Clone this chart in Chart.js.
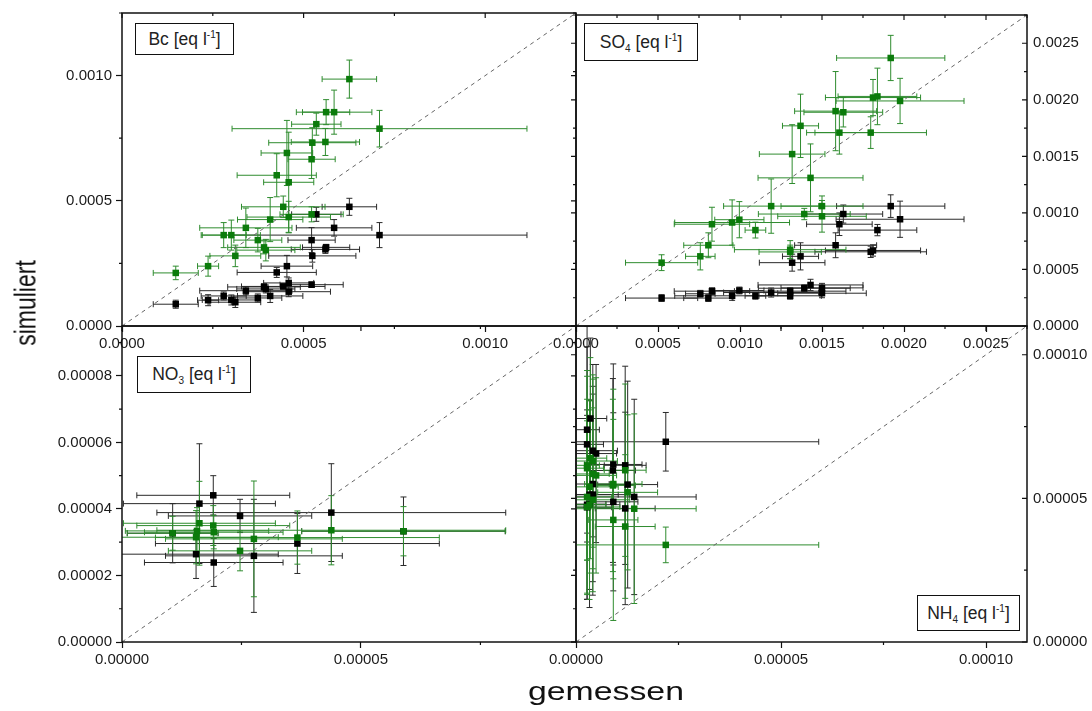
<!DOCTYPE html>
<html>
<head>
<meta charset="utf-8">
<script src="https://cdn.jsdelivr.net/npm/chart.js@4/dist/chart.umd.min.js"></script>
<style>
  body { margin: 0; background: #fff; }
  #wrap { position: relative; width: 1092px; height: 711px; overflow: hidden; font-family: 'Liberation Sans', Arial, sans-serif; }
  #wrap canvas { position: absolute; left: 0; top: 0; }
  .tag { position: absolute; box-sizing: border-box; border: 1.5px solid #111; background: #fff; display: flex; align-items: center; justify-content: center; font-size: 17.5px; color: #222; white-space: nowrap; }
  .tag sup { font-size: 10px; line-height: 0; vertical-align: 7px; }
  .tag sub { font-size: 10px; line-height: 0; vertical-align: -4px; }
  .title { position: absolute; color: #111; white-space: nowrap; text-align: center; }
</style>
</head>
<body>
<div id="wrap">
  <canvas id="bcplot" width="1092" height="711"></canvas>
  <canvas id="so4plot" width="1092" height="711"></canvas>
  <canvas id="no3plot" width="1092" height="711"></canvas>
  <canvas id="nh4plot" width="1092" height="711"></canvas>

  <div class="tag" style="left:135px;top:23px;width:99px;height:32px"><span>Bc [eq l<sup>-1</sup>]</span></div>
  <div class="tag" style="left:584px;top:23px;width:114px;height:38px"><span>SO<sub>4</sub> [eq l<sup>-1</sup>]</span></div>
  <div class="tag" style="left:137px;top:356px;width:114px;height:37px"><span>NO<sub>3</sub> [eq l<sup>-1</sup>]</span></div>
  <div class="tag" style="left:917px;top:595px;width:103px;height:36px"><span>NH<sub>4</sub> [eq l<sup>-1</sup>]</span></div>

  <div class="title" style="left:-35px;top:288px;width:120px;height:30px;line-height:30px;font-size:23px;transform:scaleX(1.3) rotate(-90deg)">simuliert</div>
  <div class="title" style="left:526px;top:678px;width:160px;height:26px;line-height:26px;font-size:26px;transform:scaleX(1.3)">gemessen</div>
</div>
<script>
// --- Bc: measured (shared x) and two simulations ---
const bcMeas      = [0.000626, 0.000562, 0.000584, 0.000535, 0.000709, 0.000524, 0.00056, 0.000454, 0.000522, 0.000426, 0.000459, 0.000444, 0.000522, 0.000459, 0.000408, 0.000341, 0.00028, 0.000301, 0.000374, 0.000391, 0.000396, 0.000312, 0.000237, 0.000148];
const bcMeasErr   = [0.000075, 0.000065, 0.000104, 0.000068, 0.000406, 0.00012, 0.000094, 0.000071, 0.000065, 0.000109, 0.000069, 0.000115, 0.000087, 0.000115, 0.00009, 0.000127, 0.000062, 0.00008, 0.000066, 0.0001, 0.00008, 0.00007, 0.000029, 0.000062];
const bcSimGreen  = [0.000986, 0.000854, 0.000854, 0.000806, 0.000788, 0.000732, 0.000735, 0.000691, 0.000666, 0.000602, 0.000574, 0.000476, 0.000446, 0.000435, 0.000425, 0.000392, 0.000363, 0.000363, 0.000343, 0.000314, 0.000303, 0.00028, 0.000239, 0.000212];
const bcGreenErr  = [0.000076, 0.00005, 0.000088, 0.000044, 0.000073, 0.00006, 0.000054, 0.00013, 0.000077, 0.000086, 0.0002, 0.000043, 0.00003, 0.000063, 0.000088, 0.000079, 0.00005, 0.00006, 0.000047, 0.000026, 0.000043, 0.000043, 0.00004, 0.000027];
const bcSimBlack  = [0.000476, 0.000314, 0.000392, 0.000446, 0.000363, 0.00028, 0.000306, 0.000239, 0.000343, 0.000214, 0.000172, 0.000158, 0.000165, 0.000137, 0.00012, 0.000141, 0.00012, 0.000104, 0.000112, 0.000156, 0.000148, 0.000095, 0.000103, 0.000087];
const bcBlackErr  = [0.000034, 0.000012, 0.000033, 0.000028, 0.00005, 0.000025, 0.000016, 0.000043, 0.00005, 0.00002, 0.00002, 0.00001, 0.000011, 0.00002, 0.000026, 0.000016, 0.000016, 0.00002, 0.000016, 0.000013, 0.000016, 0.000021, 0.000022, 0.000016];

// --- SO4 ---
const so4Meas     = [0.001919, 0.001811, 0.001838, 0.001976, 0.001583, 0.00163, 0.001369, 0.001606, 0.001797, 0.001318, 0.00143, 0.00119, 0.0015, 0.001392, 0.0015, 0.000996, 0.000952, 0.000829, 0.001094, 0.000807, 0.001306, 0.000758, 0.000522, 0.001306];
const so4MeasErr  = [0.00033, 0.00029, 0.00024, 0.00039, 0.00025, 0.00024, 0.00011, 0.0002, 0.00034, 0.0002, 0.00032, 0.00029, 0.00025, 0.00028, 0.00027, 0.00015, 0.00035, 0.00023, 0.000063, 0.00015, 0.00034, 0.00009, 0.00022, 0.00019];
const so4SimGreen = [0.00237, 0.00202, 0.00203, 0.00199, 0.0019, 0.00189, 0.00177, 0.00171, 0.00171, 0.00152, 0.00131, 0.00106, 0.00106, 0.00099, 0.00097, 0.00094, 0.000915, 0.0009, 0.000848, 0.000714, 0.000675, 0.000616, 0.00056, 0.000655];
const so4GreenErr = [0.0002, 0.00016, 0.00025, 0.0002, 0.00035, 0.00013, 0.00028, 0.00019, 0.00014, 0.00026, 0.0003, 0.00024, 0.00009, 0.00005, 0.00014, 0.00016, 0.0002, 0.00015, 0.00007, 0.00011, 0.00008, 0.00012, 0.00007, 0.00006];
const so4SimBlack = [0.00106, 0.000668, 0.000848, 0.000944, 0.000714, 0.00099, 0.000616, 0.0009, 0.000656, 0.00056, 0.000363, 0.000296, 0.000337, 0.000334, 0.00029, 0.000314, 0.000267, 0.000308, 0.000267, 0.000247, 0.000308, 0.000285, 0.000247, 0.000267];
const so4BlackErr = [0.0001, 0.00005, 0.00005, 0.00016, 0.00011, 0.00008, 0.00012, 0.0001, 0.00005, 0.000075, 0.00005, 0.00004, 0.00004, 0.00003, 0.00004, 0.00003, 0.00004, 0.00003, 0.00003, 0.00003, 0.00003, 0.00003, 0.00003, 0.00003];

// --- NO3 ---
const no3Meas     = [0.0000106, 0.0000162, 0.0000157, 0.0000155, 0.0000191, 0.0000192, 0.0000247, 0.0000276, 0.0000367, 0.0000438, 0.0000589];
const no3MeasErr  = [0.0000095, 0.0000159, 0.000015, 0.0000172, 0.000016, 0.0000145, 0.000015, 0.0000185, 0.0000297, 0.0000365, 0.0000213];
const no3SimGreen = [0.0000327, 0.0000357, 0.0000334, 0.0000315, 0.000035, 0.000033, 0.0000274, 0.000031, 0.0000314, 0.0000336, 0.0000333];
const no3GreenErr = [0.0000051, 0.0000126, 0.000007, 0.000008, 0.000006, 0.000005, 0.000006, 0.0000174, 0.000008, 0.0000104, 0.0000074];
const no3SimBlack = [0.0000327, 0.0000416, null, 0.0000264, 0.0000441, 0.0000239, 0.0000379, 0.0000259, 0.0000296, 0.0000389, 0.0000333];
const no3BlackErr = [0.0000089, 0.000018, null, 0.0000073, 0.0000059, 0.0000072, 0.000005, 0.000017, 0.000009, 0.0000147, 0.0000103];

// --- NH4 ---
const nh4Meas     = [0.0000219, 0.0000142, 0.000012, 0.0000126, 0.000012, 0.0000091, 0.000009, 0.0000091, 0.0000035, 0.0000027, 0.0000027, 0.0000041, 0.0000049, 0.0000041, 0.0000033, 0.0000041, 0.0000027, 0.0000033, 0.0000027];
const nh4MeasErr  = [0.0000373, 0.0000151, 0.0000073, 0.0000073, 0.0000051, 0.000007, 0.0000055, 0.000006, 0.000004, 0.000003, 0.000004, 0.000006, 0.000005, 0.000004, 0.000007, 0.000009, 0.000008, 0.000004, 0.000006];
const nh4SimGreen = [0.0000338, 0.0000464, 0.0000402, 0.0000521, 0.0000598, 0.000055, 0.0000545, 0.0000425, 0.000064, 0.0000615, 0.0000605, 0.000063, 0.000058, 0.0000585, 0.000054, 0.0000495, 0.000047, 0.0000478, 0.0000505];
const nh4GreenErr = [0.0000062, 0.000033, 0.000025, 0.000027, 0.00003, 0.000033, 0.00003, 0.000035, 0.000035, 0.000033, 0.000032, 0.00003, 0.000034, 0.000033, 0.00003, 0.000032, 0.00003, 0.000033, 0.000034];
const nh4SimBlack = [0.0000697, 0.0000505, 0.0000465, 0.0000548, 0.0000615, 0.0000618, 0.0000597, 0.0000488, 0.0000778, 0.0000739, 0.0000688, 0.0000666, 0.0000656, 0.000055, 0.0000513, 0.0000513, 0.0000478, 0.000048, 0.0000469];
const nh4BlackErr = [0.0000102, 0.000034, 0.0000335, 0.000036, 0.0000345, 0.000035, 0.000032, 0.000031, 0.000028, 0.000036, 0.000034, 0.00003, 0.000031, 0.000034, 0.000033, 0.000035, 0.000033, 0.000036, 0.000032];

const FONT = "'Liberation Sans', Arial, sans-serif";
const GREEN = '#0b7b0b', GREEN_BAR = '#2f8c2f';
const BLACK = '#000000', BLACK_BAR = '#2a2a2a';
const CANVAS_W = 1092, CANVAS_H = 711;
const Y_AXIS_W = 70, X_AXIS_H = 26;
const CAP = 3;

function toPoints(meas, measErr, sim, simErr) {
    return meas.map((m, i) => ({ x: m, y: sim[i], xErr: measErr[i], yErr: simErr[i] }));
}

// error bars, drawn under the squares
const errorBars = {
    id: 'errorBars',
    beforeDatasetsDraw(chart) {
        const { ctx, chartArea: a, scales: { x, y } } = chart;
        ctx.save();
        ctx.beginPath();
        ctx.rect(a.left, a.top, a.right - a.left, a.bottom - a.top);
        ctx.clip();
        ctx.lineWidth = 1;
        for (let i = chart.data.datasets.length - 1; i >= 0; i--) {
            const ds = chart.data.datasets[i];
            if (!ds.errColor) continue;
            ctx.strokeStyle = ds.errColor;
            ctx.beginPath();
            ds.data.forEach(p => {
                if (p.y == null) return;
                const px = x.getPixelForValue(p.x), py = y.getPixelForValue(p.y);
                const x0 = x.getPixelForValue(p.x - p.xErr), x1 = x.getPixelForValue(p.x + p.xErr);
                const y0 = y.getPixelForValue(p.y - p.yErr), y1 = y.getPixelForValue(p.y + p.yErr);
                ctx.moveTo(x0, py); ctx.lineTo(x1, py);
                ctx.moveTo(x0, py - CAP); ctx.lineTo(x0, py + CAP);
                ctx.moveTo(x1, py - CAP); ctx.lineTo(x1, py + CAP);
                ctx.moveTo(px, y0); ctx.lineTo(px, y1);
                ctx.moveTo(px - CAP, y0); ctx.lineTo(px + CAP, y0);
                ctx.moveTo(px - CAP, y1); ctx.lineTo(px + CAP, y1);
            });
            ctx.stroke();
        }
        ctx.restore();
    }
};

// box round the panel + minor and mirrored ticks
const frame = {
    id: 'frame',
    afterDraw(chart, args, opts) {
        const { ctx, chartArea: a, scales: { x, y } } = chart;
        ctx.save();
        ctx.strokeStyle = '#111';
        ctx.lineWidth = 1.2;
        ctx.beginPath();
        const nx = Math.floor(x.max / opts.xMinor + 1e-6);
        for (let i = 0; i <= nx; i++) {
            const px = x.getPixelForValue(i * opts.xMinor);
            const len = i % 2 ? 3 : 5;
            if (i % 2) { ctx.moveTo(px, a.bottom); ctx.lineTo(px, a.bottom + 3); }
            ctx.moveTo(px, a.top); ctx.lineTo(px, a.top + len);
        }
        const ny = Math.floor(y.max / opts.yMinor + 1e-6);
        for (let i = 0; i <= ny; i++) {
            const py = y.getPixelForValue(i * opts.yMinor);
            const len = i % 2 ? 3 : 5;
            if (opts.yRight) {
                ctx.moveTo(a.right, py); ctx.lineTo(a.right - len, py);
                ctx.moveTo(a.left, py); ctx.lineTo(a.left - len, py);
            } else {
                if (i % 2) { ctx.moveTo(a.left, py); ctx.lineTo(a.left - 3, py); }
                ctx.moveTo(a.right, py); ctx.lineTo(a.right - len, py);
            }
        }
        ctx.stroke();
        ctx.lineWidth = 1.5;
        ctx.strokeRect(a.left, a.top, a.right - a.left, a.bottom - a.top);
        ctx.restore();
    }
};

function buildPanel(canvasId, p) {
    const axisFont = { family: FONT, size: 15 };
    const pad = {
        top: p.area.top,
        bottom: CANVAS_H - p.area.bottom - X_AXIS_H,
        left: p.yRight ? p.area.left : p.area.left - Y_AXIS_W,
        right: p.yRight ? CANVAS_W - p.area.right - Y_AXIS_W : CANVAS_W - p.area.right
    };
    return new Chart(document.getElementById(canvasId), {
        type: 'scatter',
        data: {
            datasets: [
                { label: 'Simulation A', data: toPoints(p.meas, p.measErr, p.simGreen, p.greenErr), backgroundColor: GREEN, borderColor: GREEN, errColor: GREEN_BAR, pointStyle: 'rect', pointRadius: 4.6, borderWidth: 0 },
                { label: 'Simulation B', data: toPoints(p.meas, p.measErr, p.simBlack, p.blackErr), backgroundColor: BLACK, borderColor: BLACK, errColor: BLACK_BAR, pointStyle: 'rect', pointRadius: 4.6, borderWidth: 0 },
                { label: '1:1', data: [{ x: 0, y: 0 }, { x: p.max, y: p.max }], showLine: true, borderColor: '#666', borderWidth: 1, borderDash: [4, 4], pointRadius: 0 }
            ]
        },
        options: {
            responsive: false,
            animation: false,
            devicePixelRatio: 1,
            events: [],
            layout: { padding: pad },
            plugins: {
                legend: { display: false },
                tooltip: { enabled: false },
                frame: { xMinor: p.xStep / 2, yMinor: p.yStep / 2, yRight: p.yRight }
            },
            scales: {
                x: {
                    type: 'linear', position: 'bottom', min: 0, max: p.max,
                    afterFit: s => { s.height = X_AXIS_H; },
                    grid: { drawOnChartArea: false, tickLength: 6, tickColor: '#111', tickWidth: 1.2 },
                    border: { display: false },
                    ticks: { stepSize: p.xStep, includeBounds: false, autoSkip: false, maxRotation: 0, padding: 3, color: '#1a1a1a', font: axisFont, callback: v => v.toFixed(p.xDigits) }
                },
                y: {
                    type: 'linear', position: p.yRight ? 'right' : 'left', min: 0, max: p.max,
                    afterFit: s => { s.width = Y_AXIS_W; },
                    grid: { drawOnChartArea: false, drawTicks: !p.yRight, tickLength: 6, tickColor: '#111', tickWidth: 1.2 },
                    border: { display: false },
                    ticks: { stepSize: p.yStep, includeBounds: false, autoSkip: false, padding: p.yRight ? 6 : 4, color: '#1a1a1a', font: axisFont, callback: v => v.toFixed(p.yDigits) }
                }
            }
        },
        plugins: [errorBars, frame]
    });
}

document.addEventListener('DOMContentLoaded', () => {
    buildPanel('bcplot', {
        area: { left: 122, top: 11, right: 576, bottom: 326 }, yRight: false,
        max: 0.00125, xStep: 0.0005, yStep: 0.0005, xDigits: 4, yDigits: 4,
        meas: bcMeas, measErr: bcMeasErr, simGreen: bcSimGreen, greenErr: bcGreenErr, simBlack: bcSimBlack, blackErr: bcBlackErr
    });
    buildPanel('so4plot', {
        area: { left: 576, top: 11, right: 1027, bottom: 326 }, yRight: true,
        max: 0.00275, xStep: 0.0005, yStep: 0.0005, xDigits: 4, yDigits: 4,
        meas: so4Meas, measErr: so4MeasErr, simGreen: so4SimGreen, greenErr: so4GreenErr, simBlack: so4SimBlack, blackErr: so4BlackErr
    });
    buildPanel('no3plot', {
        area: { left: 122, top: 326, right: 576, bottom: 642 }, yRight: false,
        max: 0.000095, xStep: 0.00005, yStep: 0.00002, xDigits: 5, yDigits: 5,
        meas: no3Meas, measErr: no3MeasErr, simGreen: no3SimGreen, greenErr: no3GreenErr, simBlack: no3SimBlack, blackErr: no3BlackErr
    });
    buildPanel('nh4plot', {
        area: { left: 576, top: 326, right: 1027, bottom: 642 }, yRight: true,
        max: 0.00011, xStep: 0.00005, yStep: 0.00005, xDigits: 5, yDigits: 5,
        meas: nh4Meas, measErr: nh4MeasErr, simGreen: nh4SimGreen, greenErr: nh4GreenErr, simBlack: nh4SimBlack, blackErr: nh4BlackErr
    });
});
</script>
</body>
</html>
